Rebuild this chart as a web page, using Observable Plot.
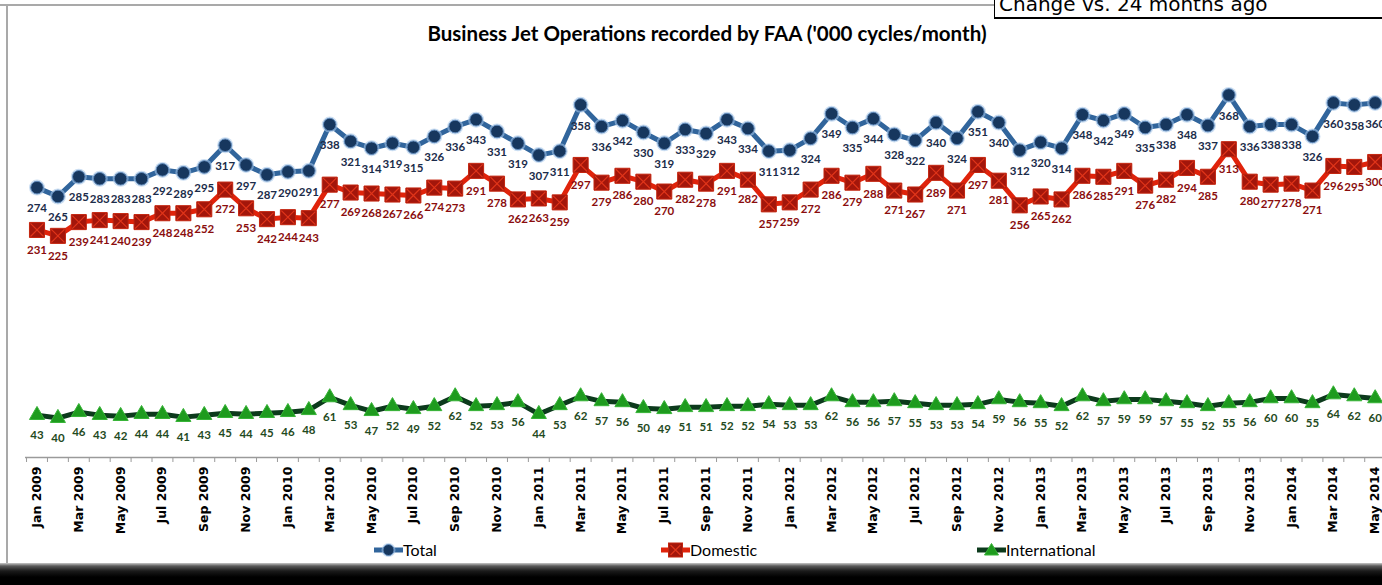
<!DOCTYPE html>
<html>
<head>
<meta charset="utf-8">
<script src="https://cdn.jsdelivr.net/npm/d3@7"></script>
<script src="https://cdn.jsdelivr.net/npm/@observablehq/plot@0.6"></script>
<style>
  html, body { margin: 0; padding: 0; width: 1382px; height: 585px; overflow: hidden; background: #fff; }
  #frameTop { position: absolute; left: 0; top: 4px; width: 995px; border-top: 2px solid #a9a9a9; }
  #frameLeft { position: absolute; left: 6px; top: 4px; height: 562px; border-left: 2px solid #a9a9a9; }
  #chart { position: absolute; left: 0; top: 0; }
  #title { position: absolute; left: 0; width: 1414px; top: 21px; text-align: center;
           font: bold 20.5px Lato, "Noto Sans", sans-serif; color: #000; }
  #box { position: absolute; left: 994px; top: -7px; width: 420px; height: 26px; background: #fff;
         border: 1px solid #000; border-bottom: 2px solid #000; box-sizing: border-box;
         font: 20px "DejaVu Sans", sans-serif; line-height: 20px; padding-left: 4px; color: #000; }
  #legend { position: absolute; left: 0; top: 540px; width: 1382px; height: 20px;
            font: 16px Lato, "Noto Sans", sans-serif; color: #000; }
  .item { position: absolute; top: 0; display: flex; align-items: center; }
  .item svg { display: block; }
  #bottom { position: absolute; left: 0; top: 563px; width: 1382px; height: 22px;
            background: linear-gradient(#c8c8c8 0px, #5a5a5a 3px, #1a1a1a 8px, #000 14px); }
</style>
</head>
<body>
<div id="frameTop"></div>
<div id="frameLeft"></div>
<div id="chart"></div>
<div id="title">Business Jet Operations recorded by FAA ('000 cycles/month)</div>
<div id="box">Change vs. 24 months ago</div>
<div id="legend"></div>
<div id="bottom"></div>
<script>
// ---- data ----
const monthNames = ["Jan","Feb","Mar","Apr","May","Jun","Jul","Aug","Sep","Oct","Nov","Dec"];
const years = [2009, 2010, 2011, 2012, 2013, 2014];
const categories = years.flatMap(y => monthNames.map(m => `${m} ${y}`)).slice(0, 65);

const total = [
  274,265,285,283,283,283,292,289,295,317,297,287,
  290,291,338,321,314,319,315,326,336,343,331,319,
  307,311,358,336,342,330,319,333,329,343,334,311,
  312,324,349,335,344,328,322,340,324,351,340,312,
  320,314,348,342,349,335,338,348,337,368,336,338,
  338,326,360,358,360
];
const domestic = [
  231,225,239,241,240,239,248,248,252,272,253,242,
  244,243,277,269,268,267,266,274,273,291,278,262,
  263,259,297,279,286,280,270,282,278,291,282,257,
  259,272,286,279,288,271,267,289,271,297,281,256,
  265,262,286,285,291,276,282,294,285,313,280,277,
  278,271,296,295,300
];
const international = [
  43,40,46,43,42,44,44,41,43,45,44,45,
  46,48,61,53,47,52,49,52,62,52,53,56,
  44,53,62,57,56,50,49,51,51,52,52,54,
  53,53,62,56,56,57,55,53,53,54,59,56,
  55,52,62,57,59,59,57,55,52,55,56,60,
  60,55,64,62,60
];
const seriesNames = ["Total", "Domestic", "International"];
const seriesValues = [total, domestic, international];

// ---- styles ----
const styles = {
  Total: { line: "#31659C", label: "#1B2C4A", legendLeft: 374 },
  Domestic: { line: "#E0230B", label: "#8A0D0D", legendLeft: 661 },
  International: { line: "#0C3A1C", label: "#1F4A22", legendLeft: 977 }
};

const rows = seriesNames.map((s, k) => seriesValues[k].map((v, i) => ({ series: s, i, value: v, cat: categories[i] })));
const [tRows, dRows, iRows] = rows;

const labelFont = { fontWeight: "bold", fontSize: 11.5, fontFamily: "Lato, 'Noto Sans', sans-serif" };

const plot = Plot.plot({
  width: 1382,
  height: 545,
  marginLeft: 25,
  marginRight: 0,
  marginTop: 63,
  marginBottom: 88,
  x: { type: "linear", domain: [-0.55, 64.35], axis: null },
  y: { domain: [0, 400], axis: null },
  marks: [
    Plot.ruleY([0], { stroke: "#9a9a9a", strokeWidth: 1.5 }),
    Plot.axisX(d3.range(-0.5, 65, 1), { tickSize: 5, tickFormat: () => "", stroke: "#9a9a9a", label: null }),
    Plot.axisX(d3.range(0, 65, 2), {
      tickSize: 0, tickPadding: 9, tickRotate: -90, label: null,
      tickFormat: i => categories[i],
      fontWeight: "bold", fontSize: 12.5, fontFamily: "'DejaVu Sans', sans-serif", fill: "#000"
    }),
    // lines
    Plot.line(tRows, { x: "i", y: "value", stroke: styles.Total.line, strokeWidth: 5 }),
    Plot.line(dRows, { x: "i", y: "value", stroke: styles.Domestic.line, strokeWidth: 5 }),
    Plot.line(iRows, { x: "i", y: "value", stroke: styles.International.line, strokeWidth: 5 }),
    // markers
    Plot.dot(tRows, { x: "i", y: "value", r: 8, fill: "#A9C8EA", fillOpacity: 0.6 }),
    Plot.dot(tRows, { x: "i", y: "value", r: 6.3, fill: "#17375E", stroke: "#5F89BA", strokeWidth: 1 }),
    Plot.dot(dRows, { x: "i", y: "value", symbol: "square", r: 8.5, fill: "#A3160B", stroke: "#C4250F", strokeWidth: 1 }),
    Plot.dot(dRows, { x: "i", y: "value", symbol: "times", r: 6, stroke: "#E0351A", strokeWidth: 1.2 }),
    Plot.dot(iRows, { x: "i", y: "value", symbol: "triangle", r: 5.6, fill: "#1E9B1E", stroke: "#36B336", strokeWidth: 1 }),
    // data labels
    Plot.text(tRows, { x: "i", y: "value", text: d => String(d.value), dy: 21, fill: styles.Total.label, ...labelFont }),
    Plot.text(dRows, { x: "i", y: "value", text: d => String(d.value), dy: 20, fill: styles.Domestic.label, ...labelFont }),
    Plot.text(iRows, { x: "i", y: "value", text: d => String(d.value), dy: 20, fill: styles.International.label, ...labelFont })
  ]
});
document.getElementById("chart").appendChild(plot);

// ---- legend ----
const legend = document.getElementById("legend");
const markerSvg = {
  Total: `<circle cx="14.5" cy="8" r="7" fill="#A9C8EA" fill-opacity="0.6"/><circle cx="14.5" cy="8" r="5.5" fill="#17375E" stroke="#5F89BA"/>`,
  Domestic: `<rect x="7.5" y="1" width="14" height="14" fill="#A3160B" stroke="#C4250F"/><path d="M9.5 3L19.5 13M19.5 3L9.5 13" stroke="#E0351A" stroke-width="1.2"/>`,
  International: `<path d="M14.5 1.5L21.5 13L7.5 13Z" fill="#1E9B1E" stroke="#36B336"/>`
};
seriesNames.forEach(s => {
  const item = document.createElement("div");
  item.className = "item";
  item.style.left = styles[s].legendLeft + "px";
  item.innerHTML = `<svg width="29" height="16"><line x1="0" x2="29" y1="8" y2="8" stroke="${styles[s].line}" stroke-width="5"/>${markerSvg[s]}</svg><span>${s}</span>`;
  legend.appendChild(item);
});
</script>
</body>
</html>
